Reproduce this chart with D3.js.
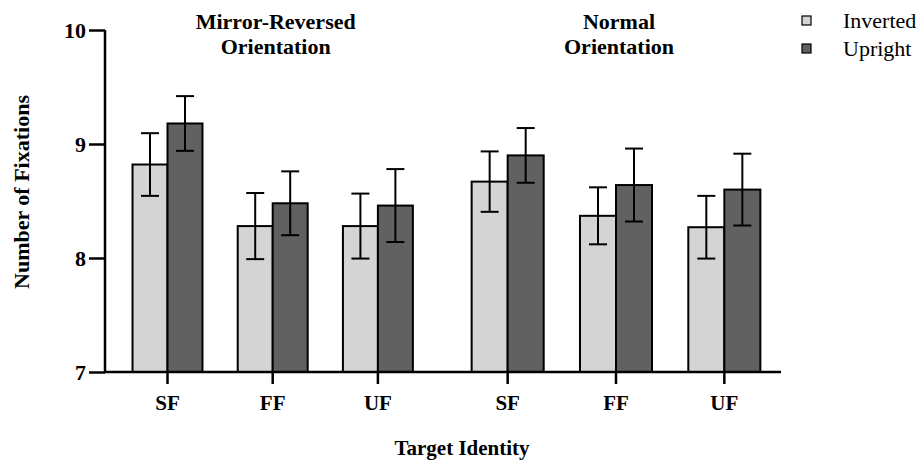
<!DOCTYPE html>
<html>
<head>
<meta charset="utf-8">
<script src="https://cdn.jsdelivr.net/npm/d3@7"></script>
<style>
  html, body { margin: 0; padding: 0; background: #fff; }
  svg { display: block; }
  svg text { font-family: 'Liberation Serif', 'DejaVu Serif'; }
</style>
</head>
<body>
<svg id="chart" width="923" height="463"></svg>
<script>
// ---- data ----
const panels = ["Mirror-Reversed", "Normal"];
const panelTitles = [["Mirror-Reversed", "Orientation"], ["Normal", "Orientation"]];
const categories = ["SF", "FF", "UF"];
const seriesNames = ["Inverted", "Upright"];
const seriesColors = ["#d4d4d4", "#616161"];
// means per panel (Mirror-Reversed, Normal)
const invertedMirror = [8.82, 8.28, 8.28];
const uprightMirror  = [9.18, 8.48, 8.46];
const invertedNormal = [8.67, 8.37, 8.27];
const uprightNormal  = [8.90, 8.64, 8.60];
// error (± half-length)
const invertedMirrorErr = [0.275, 0.29, 0.285];
const uprightMirrorErr  = [0.24, 0.28, 0.32];
const invertedNormalErr = [0.265, 0.25, 0.275];
const uprightNormalErr  = [0.24, 0.32, 0.315];
const yTicks = [7, 8, 9, 10];
const yTitle = "Number of Fixations";
const xTitle = "Target Identity";

const FONT = "'Liberation Serif', 'DejaVu Serif'";

// ---- build records ----
const values = {
  "Mirror-Reversed": [invertedMirror, uprightMirror],
  "Normal": [invertedNormal, uprightNormal]
};
const errs = {
  "Mirror-Reversed": [invertedMirrorErr, uprightMirrorErr],
  "Normal": [invertedNormalErr, uprightNormalErr]
};
const records = [];
panels.forEach(p => categories.forEach((c, ci) => seriesNames.forEach((s, si) => {
  records.push({panel: p, cat: c, series: s, si, value: values[p][si][ci], err: errs[p][si][ci]});
})));

// ---- layout ----
const svg = d3.select("#chart").style("font-family", FONT);
const axisX0 = 105, axisX1 = 781;
const y = d3.scaleLinear().domain([7, 10]).range([372, 30]);

const panelRange = {
  "Mirror-Reversed": [114.9, 430.5],
  "Normal": [453.5, 778.5]
};
const xCat = {};
const xSer = {};
panels.forEach(p => {
  xCat[p] = d3.scaleBand().domain(categories).range(panelRange[p]).paddingInner(0).paddingOuter(0);
  const bw = xCat[p].bandwidth();
  const pad = (bw - bw * 0.665) / 2;
  xSer[p] = d3.scaleBand().domain(seriesNames).range([pad, bw - pad]).padding(0);
});

// ---- bars ----
const g = svg.append("g");
g.selectAll("rect.bar").data(records).enter().append("rect")
  .attr("class", "bar")
  .attr("x", d => xCat[d.panel](d.cat) + xSer[d.panel](d.series))
  .attr("width", d => xSer[d.panel].bandwidth())
  .attr("y", d => y(d.value))
  .attr("height", d => y(7) - y(d.value))
  .attr("fill", d => seriesColors[d.si])
  .attr("stroke", "#000")
  .attr("stroke-width", 2);

// ---- error bars ----
const cx = d => xCat[d.panel](d.cat) + xSer[d.panel](d.series) + xSer[d.panel].bandwidth() / 2;
const capW = 9;
const eb = g.selectAll("g.err").data(records).enter().append("g").attr("class", "err")
  .attr("stroke", "#000").attr("stroke-width", 2);
eb.append("line").attr("x1", cx).attr("x2", cx)
  .attr("y1", d => y(d.value + d.err)).attr("y2", d => y(d.value - d.err));
eb.append("line").attr("x1", d => cx(d) - capW).attr("x2", d => cx(d) + capW)
  .attr("y1", d => y(d.value + d.err)).attr("y2", d => y(d.value + d.err));
eb.append("line").attr("x1", d => cx(d) - capW).attr("x2", d => cx(d) + capW)
  .attr("y1", d => y(d.value - d.err)).attr("y2", d => y(d.value - d.err));

// ---- y axis ----
const yAxis = svg.append("g").attr("transform", `translate(${axisX0},0)`)
  .call(d3.axisLeft(y).tickValues(yTicks).tickSize(16).tickPadding(3).tickFormat(d3.format("d")));
yAxis.attr("font-family", null);
yAxis.select(".domain").attr("stroke", "#000").attr("stroke-width", 2.5)
  .attr("d", `M0,${y(10)}V${y(7)}`);
yAxis.selectAll(".tick line").attr("stroke", "#000").attr("stroke-width", 2.5);
yAxis.selectAll(".tick text").style("font-size", "22px").style("font-weight", "bold")
  .attr("fill", "#000").attr("dy", "0.34em").style("font-family", FONT);

// ---- x axis ----
svg.append("line").attr("x1", axisX0 - 1).attr("x2", axisX1)
  .attr("y1", y(7)).attr("y2", y(7)).attr("stroke", "#000").attr("stroke-width", 2.5);
panels.forEach(p => {
  const ax = svg.append("g").attr("transform", `translate(0,${y(7)})`)
    .call(d3.axisBottom(xCat[p]).tickSize(12).tickPadding(11));
  ax.attr("font-family", null);
  ax.select(".domain").remove();
  ax.selectAll(".tick line").attr("stroke", "#000").attr("stroke-width", 2.5);
  ax.selectAll(".tick text").style("font-size", "21px").style("font-weight", "bold")
    .attr("fill", "#000").style("font-family", FONT);
});

// ---- panel titles ----
panels.forEach((p, i) => {
  const cxp = xCat[p]("FF") + xCat[p].bandwidth() / 2 + 3;
  const t = svg.append("text").attr("x", cxp).attr("y", 29)
    .attr("text-anchor", "middle").style("font-size", "22px").style("font-weight", "bold")
    .style("font-family", FONT);
  panelTitles[i].forEach((line, li) => {
    t.append("tspan").attr("x", cxp).attr("y", 29 + li * 25).text(line);
  });
});

// ---- axis titles ----
svg.append("text").attr("transform", `translate(29,192) rotate(-90)`)
  .attr("text-anchor", "middle").style("font-size", "22px").style("font-weight", "bold")
  .style("font-family", FONT).text(yTitle);
svg.append("text").attr("x", 462).attr("y", 455)
  .attr("text-anchor", "middle").style("font-size", "21px").style("font-weight", "bold")
  .style("font-family", FONT).text(xTitle);

// ---- legend ----
const leg = svg.append("g").attr("transform", "translate(802,16)");
seriesNames.forEach((s, i) => {
  const row = leg.append("g").attr("transform", `translate(0,${i * 28})`);
  row.append("rect").attr("width", 9).attr("height", 9)
    .attr("fill", seriesColors[i]).attr("stroke", "#000").attr("stroke-width", 1.2);
  row.append("text").attr("x", 41).attr("y", 12).style("font-size", "22px")
    .style("font-family", FONT).text(s);
});
</script>
</body>
</html>
